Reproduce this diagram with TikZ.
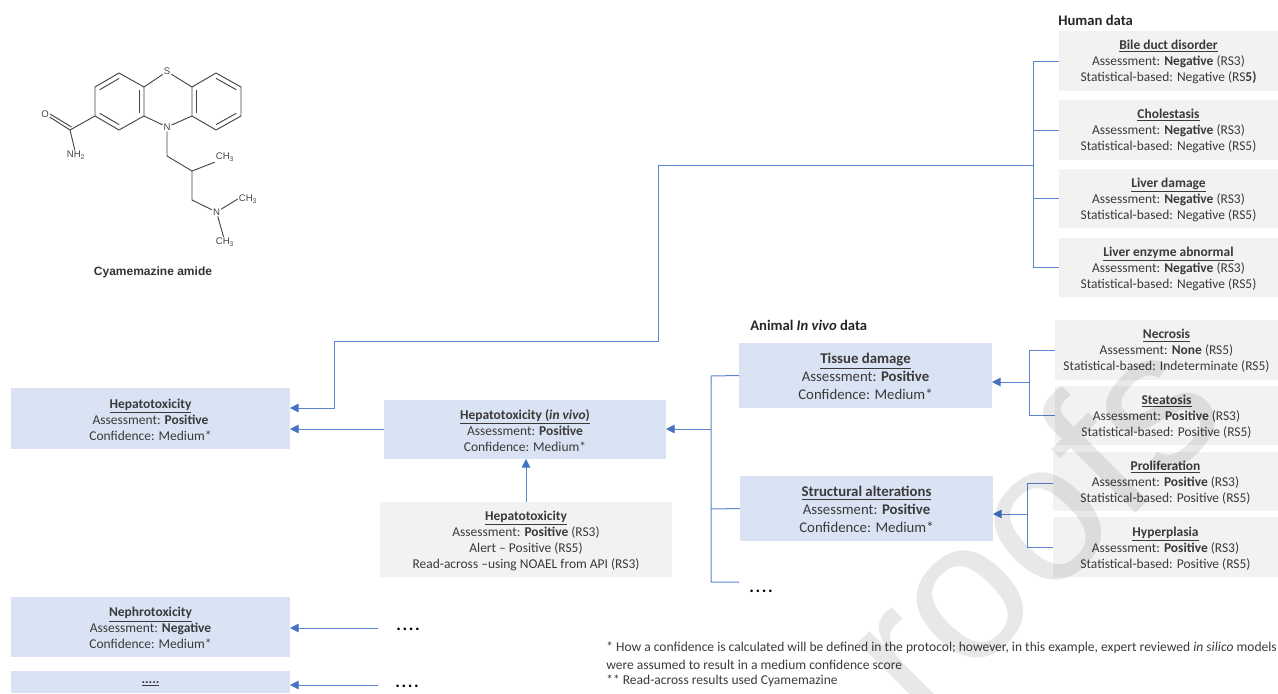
\documentclass[tikz,border=0pt]{standalone}
\usepackage{fontspec}
\setmainfont{Carlito}
\newfontfamily\molfont{Liberation Sans}
\usetikzlibrary{arrows.meta,calc}
\definecolor{bluebox}{HTML}{DAE3F3}
\definecolor{greybox}{HTML}{F2F2F2}
\definecolor{conn}{HTML}{5B84CE}
\definecolor{tip}{HTML}{4472C4}
\definecolor{ink}{HTML}{3A3A3A}
\definecolor{bond}{HTML}{444444}
\tikzset{
  boxbase/.style={inner sep=0pt,outer sep=0pt,align=center,text=ink,font=\fontsize{10.1}{12}\selectfont},
  conline/.style={draw=conn,line width=.75pt},
  arrowline/.style={conline,-{Triangle[length=6.5pt,width=6.5pt,color=tip]}},
  bondline/.style={draw=bond,line width=.7pt},
  atom/.style={inner sep=.6pt,text=bond,font=\molfont\fontsize{7.2}{8}\selectfont},
  hdr/.style={anchor=west,inner sep=0pt,text=black!85,font=\fontsize{11}{13}\selectfont\bfseries},
  dotmark/.style={inner sep=0pt,text=black,font=\fontsize{13}{14}\selectfont\bfseries},
  foot/.style={anchor=west,inner sep=0pt,text=ink,font=\fontsize{10.15}{12}\selectfont},
  wmark/.style={inner sep=0pt,text=black,opacity=.09,font=\molfont\fontsize{148}{148}\selectfont}
}
% name, x1, y1, x2, y2, colour, font, text
\newcommand{\bx}[8]{\node[boxbase,fill=#6,minimum width={(#4-#2)*.75pt},minimum height={(#5-#3)*.75pt},#7] (#1) at ({(#2+#4)/2},{(#3+#5)/2}) {#8};}
\newcommand{\ttl}[1]{\rule{0pt}{.88em}\underline{\textbf{#1}}}
\newcommand{\fourdots}{.\kern1.2pt.\kern1.2pt.\kern1.2pt.}
\begin{document}
\begin{tikzpicture}[x=.75pt,y=-.75pt]
\useasboundingbox (0,0) rectangle (1278,693);
\clip (0,0) rectangle (1278,693);
% human data
\node[hdr] (human) at (1058,20) {Human data};
\bx{bile}{1059}{31}{1278}{91}{greybox}{}{\ttl{Bile duct disorder}\\Assessment: \textbf{Negative} (RS3)\\Statistical-based: Negative (RS\textbf{5)}}
\bx{chol}{1059}{100}{1278}{160}{greybox}{}{\ttl{Cholestasis}\\Assessment: \textbf{Negative} (RS3)\\Statistical-based: Negative (RS5)}
\bx{liver}{1059}{169}{1278}{228}{greybox}{}{\ttl{Liver damage}\\Assessment: \textbf{Negative} (RS3)\\Statistical-based: Negative (RS5)}
\bx{enz}{1059}{238}{1278}{297}{greybox}{}{\ttl{Liver enzyme abnormal}\\Assessment: \textbf{Negative} (RS3)\\Statistical-based: Negative (RS5)}
% animal data
\node[hdr] (animal) at (750,325) {Animal \textit{In vivo} data};
\bx{tissue}{739}{343}{992}{408}{bluebox}{font=\fontsize{11.1}{13.5}\selectfont}{\ttl{Tissue damage}\\Assessment: \textbf{Positive}\\Confidence: Medium*}
\bx{struct}{740}{476}{993}{541}{bluebox}{font=\fontsize{11.1}{13.5}\selectfont}{\ttl{Structural alterations}\\Assessment: \textbf{Positive}\\Confidence: Medium*}
\bx{necr}{1055}{320}{1278}{380}{greybox}{}{\ttl{Necrosis}\\Assessment: \textbf{None} (RS5)\\Statistical-based: Indeterminate (RS5)}
\bx{stea}{1055}{386}{1278}{445}{greybox}{}{\ttl{Steatosis}\\Assessment: \textbf{Positive} (RS3)\\Statistical-based: Positive (RS5)}
\bx{prol}{1053}{452}{1278}{511}{greybox}{}{\ttl{Proliferation}\\Assessment: \textbf{Positive} (RS3)\\Statistical-based: Positive (RS5)}
\bx{hyper}{1053}{517}{1278}{577}{greybox}{}{\ttl{Hyperplasia}\\Assessment: \textbf{Positive} (RS3)\\Statistical-based: Positive (RS5)}
\node[dotmark] (adots) at (761,591) {\fourdots};
% centre and left
\bx{hep}{11}{388}{290}{449}{bluebox}{}{\ttl{Hepatotoxicity}\\Assessment: \textbf{Positive}\\Confidence: Medium*}
\bx{hepv}{384}{400}{666}{459}{bluebox}{}{\ttl{Hepatotoxicity (\textit{in vivo})}\\Assessment: \textbf{Positive}\\Confidence: Medium*}
\bx{hepg}{380}{502}{672}{577}{greybox}{}{\ttl{Hepatotoxicity}\\Assessment: \textbf{Positive} (RS3)\\Alert -- Positive (RS5)\\Read-across --using NOAEL from API (RS3)}
\bx{neph}{11}{597}{290}{657}{bluebox}{}{\ttl{Nephrotoxicity}\\Assessment: \textbf{Negative}\\Confidence: Medium*}
\bx{more}{11}{671}{290}{693}{bluebox}{}{\raisebox{-4pt}{\underline{\textbf{.....}}}}
\node[dotmark] (ndots) at (408,629) {\fourdots};
\node[dotmark] (mdots) at (407,686) {\fourdots};
% footnotes
\node[foot] (f1) at (606,648) {* How a confidence is calculated will be defined in the protocol; however, in this example, expert reviewed \textit{in silico} models};
\node[foot] (f2) at (606,665) {were assumed to result in a medium confidence score};
\node[foot] (f3) at (606,681) {** Read-across results used Cyamemazine};
% connectors: human
\coordinate (hb) at (1033,165);
\coordinate (ht) at (1033,61);
\coordinate (he) at (1033,267);
\draw[conline] (bile.west |- ht) -- (ht) -- (he) -- (enz.west |- he);
\draw[conline] (hb |- chol.west) -- (chol.west);
\draw[conline] (hb |- liver.west) -- (liver.west);
\coordinate (t1) at (658,165);
\coordinate (t2) at (658,341);
\coordinate (t3) at (334,341);
\coordinate (t4) at (334,408);
\draw[arrowline] (hb) -- (t1) -- (t2) -- (t3) -- (t4) -- (t4 -| hep.east);
\coordinate (hy) at (0,429);
\draw[arrowline] (hepv.west |- hy) -- (hep.east |- hy);
\coordinate (vx) at (526,0);
\draw[arrowline] (vx |- hepg.north) -- (vx |- hepv.south);
% connectors: animal
\coordinate (a0) at (711,429);
\coordinate (a1) at (711,376);
\coordinate (a2) at (711,509);
\coordinate (a3) at (711,582);
\coordinate (a4) at (739,582);
\draw[arrowline] (a0) -- (a0 -| hepv.east);
\draw[conline] (tissue.west) -- (a1) -- (a3) -- (a4);
\draw[conline] (a2) -- (struct.west);
\coordinate (b0) at (1029,382);
\coordinate (b1) at (1029,350);
\coordinate (b2) at (1029,415);
\draw[conline] (necr.west |- b1) -- (b1) -- (b2) -- (stea.west |- b2);
\draw[arrowline] (b0) -- (b0 -| tissue.east);
\coordinate (c0) at (1027,514);
\coordinate (c1) at (1027,483);
\coordinate (c2) at (1027,547);
\draw[conline] (prol.west |- c1) -- (c1) -- (c2) -- (hyper.west |- c2);
\draw[arrowline] (c0) -- (c0 -| struct.east);
\coordinate (d1) at (378,628);
\coordinate (d2) at (378,685);
\draw[arrowline] (d1) -- (d1 -| neph.east);
\draw[arrowline] (d2) -- (d2 -| more.east);
% molecule
\coordinate (lc) at (119.5,101.5);
\coordinate (rc) at (216.5,101.5);
\coordinate (l1) at (119,73);
\coordinate (l2) at (144,87);
\coordinate (l3) at (144,116);
\coordinate (l4) at (119,130);
\coordinate (l5) at (95,116);
\coordinate (l6) at (95,87);
\coordinate (r1) at (192,87);
\coordinate (r2) at (216,73);
\coordinate (r3) at (241,87);
\coordinate (r4) at (241,116);
\coordinate (r5) at (216,130);
\coordinate (r6) at (192,116);
\coordinate (co) at (70,130);
\coordinate (m1) at (167,156);
\coordinate (m2) at (192,171);
\coordinate (m3) at (192,200);
\node[atom] (S) at (167,71.5) {S};
\node[atom] (N1) at (167,127) {N};
\node[atom] (O) at (45,114) {O};
\node[atom] (NH) at (76,155) {NH\textsubscript{2}};
\node[atom] (N2) at (216.5,212) {N};
\node[atom] (Me1) at (225,157) {CH\textsubscript{3}};
\node[atom] (Me2) at (248,199) {CH\textsubscript{3}};
\node[atom] (Me3) at (225,242) {CH\textsubscript{3}};
\draw[bondline,line join=round] (l1) -- (l2) -- (l3) -- (l4) -- (l5) -- (l6) -- cycle;
\draw[bondline,line join=round] (r1) -- (r2) -- (r3) -- (r4) -- (r5) -- (r6) -- cycle;
\foreach \a/\b/\c in {l6/l1/lc,l5/l4/lc,l2/l3/lc,r1/r6/rc,r2/r3/rc,r4/r5/rc}
  \draw[bondline] ($(\a)!.19!(\c)$) -- ($(\b)!.19!(\c)$);
\draw[bondline] (l2) -- (S) -- (r1);
\draw[bondline] (l3) -- (N1) -- (r6);
\draw[bondline] (N1) -- (m1) -- (m2) -- (m3) -- (N2) -- (Me2.west);
\draw[bondline] (m2) -- (Me1.south west);
\draw[bondline] (N2) -- (Me3);
\draw[bondline] (l5) -- (co) -- (NH);
\draw[bondline] (co) -- (O);
\draw[bondline] ($(co)+(1.5,-3)$) -- ($(O)+(5,0)$);
\node[inner sep=0pt,text=black!80,font=\molfont\fontsize{9}{10}\selectfont\bfseries] (molname) at (153,272) {Cyamemazine amide};
% watermark
\node[wmark,rotate=45,anchor=base west] (wm) at (922,727) {roofs};
\end{tikzpicture}
\end{document}
